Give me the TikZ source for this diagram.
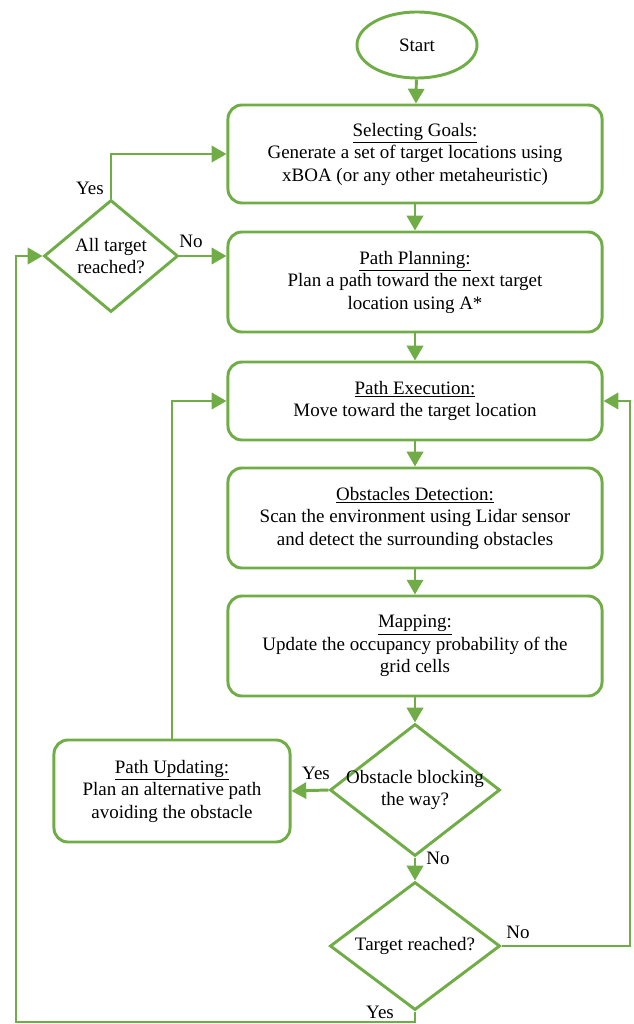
\documentclass[tikz,border=0pt]{standalone}
\usepackage{fontspec}
\setmainfont{Liberation Serif}
\usepackage{tikz}
\usetikzlibrary{shapes.geometric, arrows.meta, positioning, calc}
\usepackage{xcolor}
\definecolor{flowGreen}{HTML}{70AD47}

\tikzset{
    flowText/.style={font=\fontsize{13.5}{16}\selectfont, align=center},
    procBox/.style={flowText, draw=flowGreen, line width=2.1pt, rounded corners=10pt,
        minimum width=9.35cm, inner sep=2pt},
    decision/.style={flowText, diamond, draw=flowGreen, line width=2.1pt, inner sep=-12pt},
    flowArrow/.style={draw=flowGreen, line width=2.1pt, -{Triangle[length=10.5pt, width=11.5pt]}},
    flowLine/.style={draw=flowGreen, line width=2.1pt}
}

\begin{document}
\begin{tikzpicture}[x=0.025cm, y=-0.025cm]
    \useasboundingbox (0,0) rectangle (633,1024);

    % Terminal
    \node[flowText, ellipse, draw=flowGreen, line width=2.1pt, minimum width=3cm, minimum height=1.65cm] (start) at (417,45) {Start};

    % Main column
    \node[procBox, minimum height=2.45cm] (goals) at (415,154)
        {\underline{Selecting Goals:}\\Generate a set of target locations using\\xBOA (or any other metaheuristic)};
    \node[procBox, minimum height=2.5cm] (planning) at (415,282)
        {\underline{Path Planning:}\\Plan a path toward the next target\\location using A*};
    \node[procBox, minimum height=1.95cm] (execution) at (415,401)
        {\underline{Path Execution:}\\Move toward the target location};
    \node[procBox, minimum height=2.5cm] (detection) at (415,518)
        {\underline{Obstacles Detection:}\\Scan the environment using Lidar sensor\\and detect the surrounding obstacles};
    \node[procBox, minimum height=2.5cm] (mapping) at (415,646)
        {\underline{Mapping:}\\Update the occupancy probability of the\\grid cells};

    % Decisions
    \node[decision, minimum width=4.25cm, minimum height=3.3cm] (blocking) at (415,790)
        {Obstacle blocking\\the way?};
    \node[decision, minimum width=4.25cm, minimum height=3.2cm] (reached) at (415,946)
        {Target reached?};
    \node[decision, minimum width=3.35cm, minimum height=2.8cm] (allDone) at (111,256)
        {All target\\reached?};

    % Side box
    \node[procBox, minimum width=5.9cm, minimum height=2.55cm] (updating) at (172,791)
        {\underline{Path Updating:}\\Plan an alternative path\\avoiding the obstacle};

    % Turning points
    \coordinate (rightTurn) at (630,946);
    \coordinate (bottomTurn) at (16,1022);

    % Straight flow
    \draw[flowArrow] (start) -- (goals);
    \draw[flowArrow] (goals) -- (planning);
    \draw[flowArrow] (planning) -- (execution);
    \draw[flowArrow] (execution) -- (detection);
    \draw[flowArrow] (detection) -- (mapping);
    \draw[flowArrow] (mapping) -- (blocking);
    \draw[flowArrow] (blocking) -- (reached);

    % Loops
    \draw[flowArrow] (blocking.west) -- (updating.east);
    \draw[flowArrow] (updating.north) |- (execution.west);
    \draw[flowArrow] (reached.east) -- (rightTurn) |- (execution.east);
    \draw[flowArrow] (reached.south) |- (bottomTurn) |- (allDone.west);
    \draw[flowArrow] (allDone.east) -- (allDone.east -| planning.west);
    \draw[flowArrow] (allDone.north) |- (goals.west);

    % Labels
    \node[flowText] (yesAll) at (90,188) {Yes};
    \node[flowText] (noAll) at (191,241) {No};
    \node[flowText] (yesBlock) at (316,773) {Yes};
    \node[flowText] (noBlock) at (438,858) {No};
    \node[flowText] (noReach) at (518,932) {No};
    \node[flowText] (yesReach) at (380,1012) {Yes};
\end{tikzpicture}
\end{document}
